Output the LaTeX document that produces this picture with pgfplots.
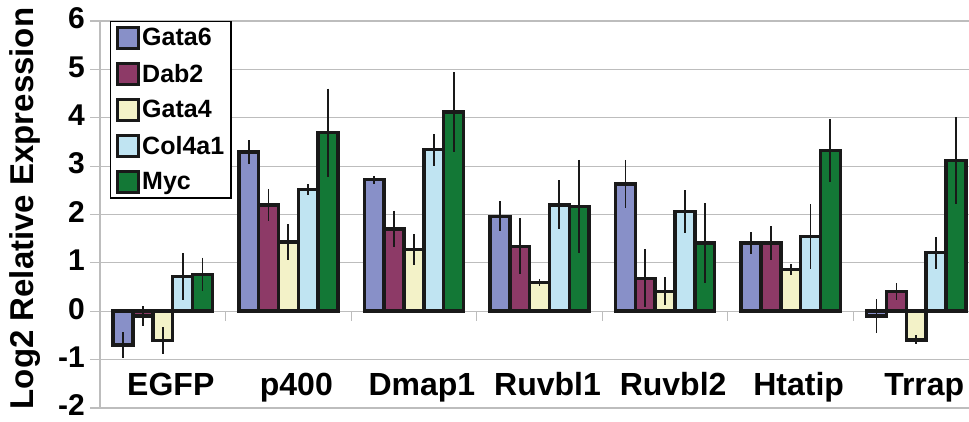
\documentclass[border=0pt]{standalone}
\usepackage{pgfplots}
\pgfplotsset{compat=1.18}
\usepackage{fontspec}
\setmainfont{Liberation Sans}
\definecolor{cGata}{HTML}{8890C8}
\definecolor{cDab}{HTML}{8D3A67}
\definecolor{cGfour}{HTML}{F3F2C8}
\definecolor{cCol}{HTML}{C0E4F2}
\definecolor{cMyc}{HTML}{137836}
\definecolor{gridc}{HTML}{BDBDBD}
\newcommand\ft[1]{\fontsize{#1}{#1}\selectfont\bfseries}
\begin{document}
\begin{tikzpicture}
\begin{axis}[
  name=ax,
  scale only axis,
  width=869pt, height=387pt,
  xmin=-0.5, xmax=6.42,
  ymin=-2, ymax=6,
  clip=false,
  ybar=0pt,
  bar width=0.158,
  axis line style={draw=none},
  ymajorgrids,
  major grid style={draw=gridc, line width=1.2pt},
  ytick={-2,-1,...,6},
  ytick pos=left,
  tick align=outside,
  major tick length=10pt,
  ytick style={draw=gridc, line width=1.2pt},
  xtick={0,...,6},
  xticklabels={EGFP,p400,Dmap1,Ruvbl1,Ruvbl2,Htatip,Trrap},
  xtick style={draw=none},
  xticklabel style={font=\ft{32}, anchor=base, yshift=22pt, xshift=8pt},
  yticklabel style={font=\ft{30}, inner sep=0pt, xshift=-5pt, yshift=2.5pt},
  /pgf/number format/assume math mode=true,
  ylabel={Log2 Relative Expression},
  every axis y label/.style={at={(axis description cs:0,0.5)}, xshift=-75pt, yshift=6pt, rotate=90, anchor=center, font=\ft{33}, inner sep=0pt},
  every axis plot/.append style={draw=black!90, line width=3.5pt},
  error bars/y dir=both,
  error bars/y explicit,
  error bars/error mark=none,
  error bars/error bar style={line width=1.8pt, draw=black!90},
  legend image code/.code={\draw[#1, line width=3.5pt] (0pt,-10.5pt) rectangle (21pt,10.5pt);},
  legend style={at={(0.0115,1.0)}, anchor=north west, draw=black, line width=1.5pt,
    font=\ft{25}, inner xsep=5pt, inner ysep=4pt, row sep=11.5pt,
    nodes={inner sep=2pt}},
  legend cell align=left,
]
\draw[gridc, line width=1.2pt] (axis cs:-0.5,-2) -- (axis cs:-0.5,6);
\pgfplotsinvokeforeach{0.5,1.5,2.5,3.5,4.5,5.5}{
  \draw[gridc, line width=1.2pt] (axis cs:#1,0) -- ([yshift=-10pt]axis cs:#1,0);
}
\addplot[fill=cGata] coordinates {
 (0,-0.70) +- (0,0.27) (1,3.29) +- (0,0.24) (2,2.72) +- (0,0.08) (3,1.96) +- (0,0.31)
 (4,2.63) +- (0,0.50) (5,1.41) +- (0,0.22) (6,-0.10) +- (0,0.35)};
\addplot[fill=cDab] coordinates {
 (0,-0.10) +- (0,0.20) (1,2.20) +- (0,0.33) (2,1.70) +- (0,0.38) (3,1.34) +- (0,0.58)
 (4,0.68) +- (0,0.60) (5,1.41) +- (0,0.35) (6,0.41) +- (0,0.17)};
\addplot[fill=cGfour] coordinates {
 (0,-0.60) +- (0,0.28) (1,1.43) +- (0,0.37) (2,1.28) +- (0,0.32) (3,0.59) +- (0,0.07)
 (4,0.41) +- (0,0.29) (5,0.86) +- (0,0.11) (6,-0.59) +- (0,0.09)};
\addplot[fill=cCol] coordinates {
 (0,0.72) +- (0,0.48) (1,2.52) +- (0,0.12) (2,3.34) +- (0,0.33) (3,2.20) +- (0,0.51)
 (4,2.06) +- (0,0.44) (5,1.55) +- (0,0.67) (6,1.21) +- (0,0.33)};
\addplot[fill=cMyc] coordinates {
 (0,0.76) +- (0,0.35) (1,3.69) +- (0,0.91) (2,4.12) +- (0,0.82) (3,2.17) +- (0,0.96)
 (4,1.41) +- (0,0.82) (5,3.32) +- (0,0.65) (6,3.12) +- (0,0.90)};
\legend{Gata6,Dab2,Gata4,Col4a1,Myc}
\end{axis}
\pgfresetboundingbox
\path[use as bounding box] ([xshift=-100pt,yshift=-14pt]ax.south west) rectangle ([yshift=21pt]ax.north east);
\end{tikzpicture}
\end{document}
